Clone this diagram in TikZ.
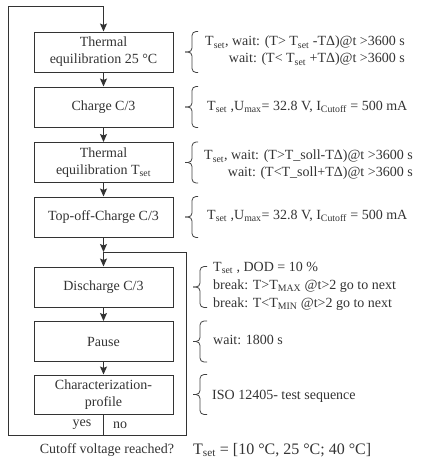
\documentclass[tikz,border=0pt]{standalone}
\usepackage{fontspec}
\setmainfont{Liberation Serif}
\usetikzlibrary{
    arrows.meta,
}

\tikzset{
    stepbox/.style={draw=black!80, line width=1pt, minimum width=139pt,
        minimum height=40pt, align=center, inner sep=2pt, text=black!80},
    flow/.style={draw=black!80, line width=0.9pt},
    flowarrow/.style={flow, -{Stealth[length=8pt, width=7pt, inset=1.5pt]}},
    bracket/.style={draw=black!75, line width=0.8pt, rounded corners=4pt},
    note/.style={anchor=west, text=black!80, inner sep=0pt},
}

\begin{document}
\begin{tikzpicture}[x=1pt, y=-1pt,
    every node/.style={font=\fontsize{14}{17}\selectfont}]

\useasboundingbox (0,0) rectangle (423,466);

% =============================================================================
% Test steps
% =============================================================================
\node[stepbox] (thermA)  at (103.5, 52)    {Thermal\\equilibration 25 °C};
\node[stepbox] (charge)  at (103.5, 107)   {Charge C/3};
\node[stepbox] (thermB)  at (103.5, 162.5) {Thermal\\equilibration T\textsubscript{set}};
\node[stepbox] (topoff)  at (103.5, 217)   {Top-off-Charge C/3};
\node[stepbox] (dischg)  at (103.5, 287)   {Discharge C/3};
\node[stepbox] (pause)   at (103.5, 341.5) {Pause};
\node[stepbox, minimum height=39pt] (charact) at (103.5, 394.5)
    {Characterization-\\profile};

% =============================================================================
% Connectors
% =============================================================================
\coordinate (top)   at (103.5, 6);
\coordinate (topL)  at (8, 6);
\coordinate (split) at (103.5, 435);
\coordinate (botL)  at (8, 435);
\coordinate (botR)  at (186, 435);
\coordinate (join)  at (103.5, 252);
\coordinate (joinR) at (186, 252);

\draw[flowarrow] (thermA) -- (charge);
\draw[flowarrow] (charge) -- (thermB);
\draw[flowarrow] (thermB) -- (topoff);
\draw[flowarrow] (topoff) -- (join);
\draw[flowarrow] (join) -- (dischg);
\draw[flowarrow] (dischg) -- (pause);
\draw[flowarrow] (pause) -- (charact);

% loop back: yes -> start, no -> discharge
\draw[flow] (charact.south) -- (split);
\draw[flowarrow] (split) -- (botL) -- (topL) -- (top) -- (thermA.north);
\draw[flow] (split) -- (botR) -- (joinR) -- (join);

\node[text=black!80] (yes) at (82, 425) {yes};
\node[text=black!80] (no)  at (120, 425) {no};

% =============================================================================
% Parameters
% =============================================================================
% hook end, spine and tip of the brackets
\coordinate (hkA) at (198, 0);
\coordinate (spA) at (192, 0);
\coordinate (tpA) at (185, 0);
\coordinate (hkB) at (207, 0);
\coordinate (spB) at (200, 0);
\coordinate (tpB) at (193, 0);

\draw[bracket] (thermA.north -| hkA) -- (thermA.north -| spA) -- (thermA -| spA) -- (thermA -| tpA);
\draw[bracket] (thermA.south -| hkA) -- (thermA.south -| spA) -- (thermA -| spA) -- (thermA -| tpA);
\draw[bracket] (charge.north -| hkA) -- (charge.north -| spA) -- (charge -| spA) -- (charge -| tpA);
\draw[bracket] (charge.south -| hkA) -- (charge.south -| spA) -- (charge -| spA) -- (charge -| tpA);
\draw[bracket] (thermB.north -| hkA) -- (thermB.north -| spA) -- (thermB -| spA) -- (thermB -| tpA);
\draw[bracket] (thermB.south -| hkA) -- (thermB.south -| spA) -- (thermB -| spA) -- (thermB -| tpA);
\draw[bracket] (topoff.north -| hkA) -- (topoff.north -| spA) -- (topoff -| spA) -- (topoff -| tpA);
\draw[bracket] (topoff.south -| hkA) -- (topoff.south -| spA) -- (topoff -| spA) -- (topoff -| tpA);
\draw[bracket] (dischg.north -| hkB) -- (dischg.north -| spB) -- (dischg -| spB) -- (dischg -| tpB);
\draw[bracket] (dischg.south -| hkB) -- (dischg.south -| spB) -- (dischg -| spB) -- (dischg -| tpB);
\draw[bracket] (pause.north -| hkB) -- (pause.north -| spB) -- (pause -| spB) -- (pause -| tpB);
\draw[bracket] (pause.south -| hkB) -- (pause.south -| spB) -- (pause -| spB) -- (pause -| tpB);
\draw[bracket] (charact.north -| hkB) -- (charact.north -| spB) -- (charact -| spB) -- (charact -| tpB);
\draw[bracket] (charact.south -| hkB) -- (charact.south -| spB) -- (charact -| spB) -- (charact -| tpB);

\node[note, align=right] (parA) at (205, 51)
    {T\textsubscript{set}, wait: (T> T\textsubscript{set} -TΔ)@t >3600 s\\
     wait: (T< T\textsubscript{set} +TΔ)@t >3600 s};
\node[note] (parB) at (207, 107)
    {T\textsubscript{set} ,U\textsubscript{max}= 32.8 V, I\textsubscript{Cutoff} = 500 mA};
\node[note, align=right] (parC) at (204, 165)
    {T\textsubscript{set}, wait: (T>T\_soll-TΔ)@t >3600 s\\
     wait: (T<T\_soll+TΔ)@t >3600 s};
\node[note] (parD) at (207, 216)
    {T\textsubscript{set} ,U\textsubscript{max}= 32.8 V, I\textsubscript{Cutoff} = 500 mA};
\node[note, align=left, font=\fontsize{14}{18}\selectfont] (parE) at (213, 286)
    {T\textsubscript{set} , DOD = 10 \%\\
     break: T>T\textsubscript{MAX} @t>2 go to next\\
     break: T<T\textsubscript{MIN} @t>2 go to next};
\node[note] (parF) at (213, 340) {wait: 1800 s};
\node[note] (parG) at (212, 396) {ISO 12405- test sequence};

% =============================================================================
% Footer
% =============================================================================
\node[text=black!80] (question) at (107, 450) {Cutoff voltage reached?};
\node[note, font=\fontsize{16}{19}\selectfont] (tset) at (193, 450)
    {T\textsubscript{set} = [10 °C, 25 °C; 40 °C]};

\end{tikzpicture}
\end{document}
